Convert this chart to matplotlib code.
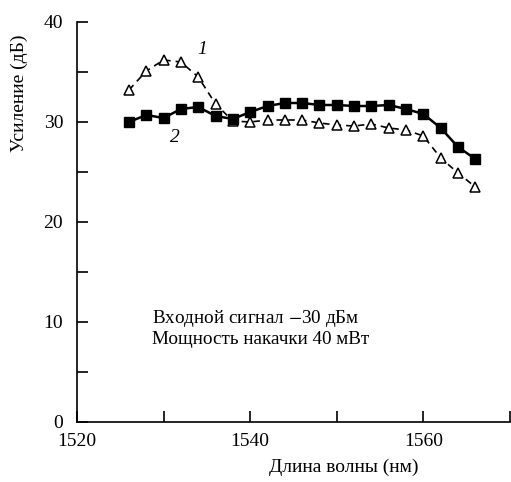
import numpy as np
import matplotlib.pyplot as plt
from matplotlib.ticker import MultipleLocator

plt.rcParams['font.family'] = ['Liberation Serif', 'DejaVu Serif']
plt.rcParams['mathtext.fontset'] = 'stix'

# Кривая 1 (треугольники, пунктир)
wl_1 = [1526, 1528, 1530, 1532, 1534, 1536, 1538, 1540, 1542, 1544, 1546, 1548,
        1550, 1552, 1554, 1556, 1558, 1560, 1562, 1564, 1566]
gain_1 = [33.2, 35.1, 36.2, 36.0, 34.5, 31.8, 30.1, 30.0, 30.2, 30.2, 30.2, 29.9,
          29.7, 29.6, 29.8, 29.4, 29.2, 28.6, 26.4, 24.9, 23.5]

# Кривая 2 (квадраты, сплошная)
wl_2 = [1526, 1528, 1530, 1532, 1534, 1536, 1538, 1540, 1542, 1544, 1546, 1548,
        1550, 1552, 1554, 1556, 1558, 1560, 1562, 1564, 1566]
gain_2 = [30.0, 30.7, 30.4, 31.3, 31.5, 30.6, 30.3, 31.0, 31.6, 31.9, 31.9, 31.7,
          31.7, 31.6, 31.6, 31.7, 31.3, 30.8, 29.4, 27.5, 26.3]

fig = plt.figure(figsize=(5.11, 4.82), dpi=100)
ax = fig.add_axes([77 / 511, 1 - 422 / 482, 433 / 511, 400 / 482])

ax.plot(wl_1, gain_1, color='black', linestyle=(0, (4, 3)), linewidth=1.2,
        marker='^', markersize=7, markerfacecolor='white', markeredgecolor='black',
        markeredgewidth=1.1)
ax.plot(wl_2, gain_2, color='black', linestyle='-', linewidth=1.8,
        marker='s', markersize=7, markerfacecolor='black', markeredgecolor='black')

ax.text(1534.4, 37.2, '1', fontsize=14, style='italic', ha='center', va='center')
ax.text(1531.3, 28.5, '2', fontsize=14, style='italic', ha='center', va='center')

ax.text(1528.7, 7.4, 'Входной сигнал $-$30 дБм\nМощность накачки 40 мВт',
        fontsize=13.8, linespacing=1.15, va='bottom')

ax.set_xlim(1520, 1570)
ax.set_ylim(0, 40)
ax.xaxis.set_major_locator(MultipleLocator(20))
ax.xaxis.set_minor_locator(MultipleLocator(10))
ax.yaxis.set_major_locator(MultipleLocator(10))
ax.yaxis.set_minor_locator(MultipleLocator(5))
ax.tick_params(which='both', direction='in', length=8, width=1.2, labelsize=14)
ax.tick_params(axis='x', pad=8)
ax.tick_params(axis='y', pad=10)
for s in ['top', 'right']:
    ax.spines[s].set_visible(False)
for s in ['left', 'bottom']:
    ax.spines[s].set_linewidth(1.2)

ax.set_xlabel('Длина волны (нм)', fontsize=14)
ax.set_ylabel('Усиление (дБ)', fontsize=14)
ax.xaxis.set_label_coords(0.617, -0.092)
ax.yaxis.set_label_coords(-0.113, 0.822)

plt.savefig('out.png', dpi=100)
